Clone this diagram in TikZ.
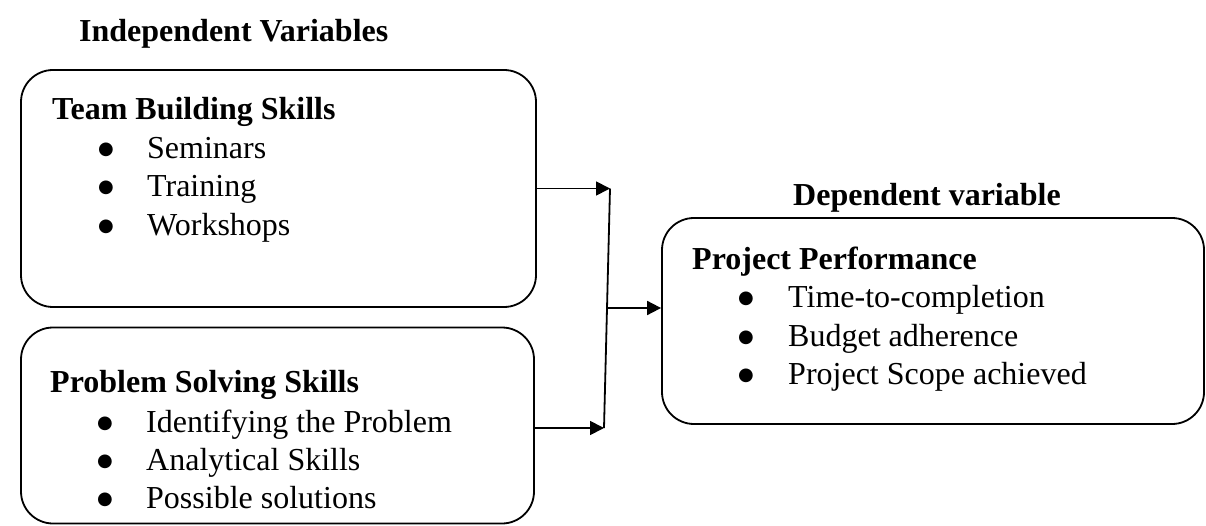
\documentclass[tikz,border=0pt]{standalone}
\usepackage{fontspec}
\setmainfont{Liberation Serif}
\newfontfamily\dejavubul{DejaVu Sans}
\usetikzlibrary{arrows.meta}
\newcommand{\bigbul}{{\dejavubul\fontsize{18}{18}\selectfont\raisebox{4pt}{●}}}
\tikzset{
  box/.style={draw, line width=1.8pt, rounded corners=32pt, inner sep=0pt},
  txt/.style={font=\fontsize{32}{38}\selectfont, inner sep=0pt, anchor=base west},
  head/.style={txt, font=\fontsize{32}{38}\selectfont\bfseries},
  bul/.style={inner sep=0pt, anchor=base},
  conn/.style={line width=1.8pt},
  arr/.style={conn, -{Triangle[length=14pt,width=14pt]}}
}
\begin{document}
\begin{tikzpicture}[x=1pt,y=-1pt]
\useasboundingbox (0,0) rectangle (1206,526);
% titles
\node[head] (indep) at (79,42) {Independent Variables};
\node[head, anchor=base] (dep) at (927,206) {Dependent variable};
% boxes
\node[box, minimum width=515pt, minimum height=237pt] (tb) at (278.5,188.5) {};
\node[box, minimum width=513pt, minimum height=196pt] (ps) at (277.5,425.5) {};
\node[box, minimum width=542pt, minimum height=206pt] (pp) at (933,321) {};
% box 1
\node[head] (tbh) at (52,120) {Team Building Skills};
\node[bul] (b11) at (106,159) {\bigbul};
\node[txt] (t11) at (147,159) {Seminars};
\node[bul] (b12) at (106,197) {\bigbul};
\node[txt] (t12) at (147,197) {Training};
\node[bul] (b13) at (106,236) {\bigbul};
\node[txt] (t13) at (147,236) {Workshops};
% box 2
\node[head] (psh) at (50,392) {Problem Solving Skills};
\node[bul] (b21) at (105,432) {\bigbul};
\node[txt] (t21) at (146,432) {Identifying the Problem};
\node[bul] (b22) at (105,470) {\bigbul};
\node[txt] (t22) at (146,470) {Analytical Skills};
\node[bul] (b23) at (105,508) {\bigbul};
\node[txt] (t23) at (146,508) {Possible solutions};
% box 3
\node[head] (pph) at (692,270) {Project Performance};
\node[bul] (b31) at (746,308) {\bigbul};
\node[txt] (t31) at (788,308) {Time-to-completion};
\node[bul] (b32) at (746,346) {\bigbul};
\node[txt] (t32) at (788,346) {Budget adherence};
\node[bul] (b33) at (746,384) {\bigbul};
\node[txt] (t33) at (788,384) {Project Scope achieved};
% connectors
\coordinate (j1) at (610,188.5);
\coordinate (j2) at (604,428);
\coordinate (jm) at (606.5,308);
\draw[arr] (tb.east) -- (j1);
\draw[conn] (j1) -- (j2);
\draw[arr] (ps.east |- j2) -- (j2);
\draw[arr] (jm) -- (pp.west |- jm);
\end{tikzpicture}
\end{document}
